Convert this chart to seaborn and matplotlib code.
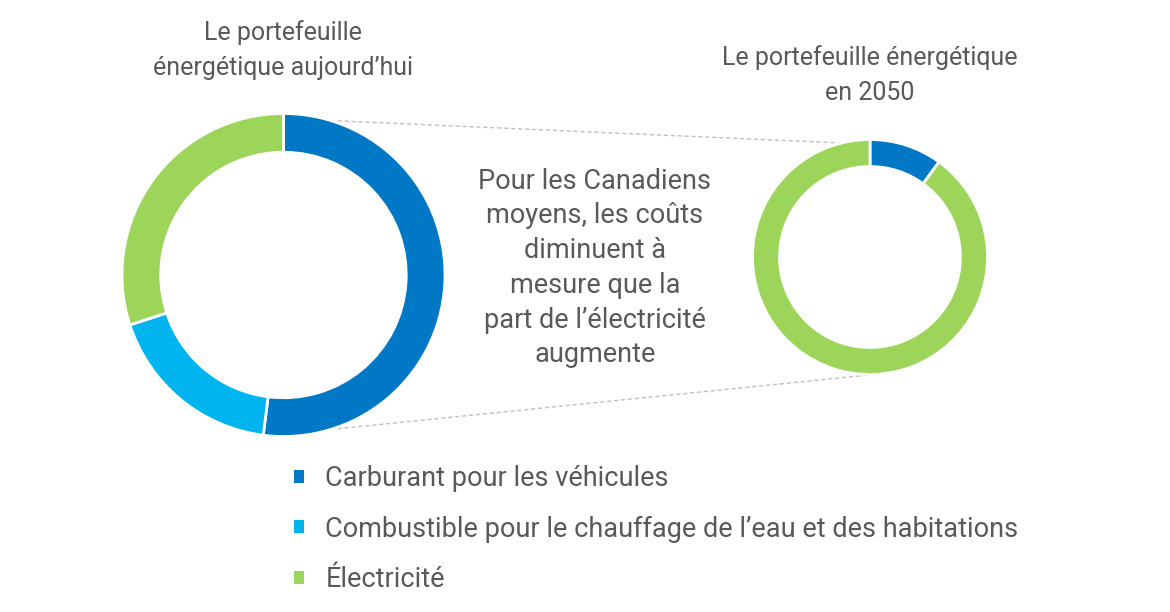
import numpy as np
import matplotlib.pyplot as plt
import seaborn as sns

# data
categories = ['Carburant pour les véhicules',
              'Combustible pour le chauffage de l’eau et des habitations',
              'Électricité']
today = [52, 18, 30]
in_2050 = [10, 0, 90]
title_today = 'Le portefeuille\nénergétique aujourd’hui'
title_2050 = 'Le portefeuille énergétique\nen 2050'
middle_text = ('Pour les Canadiens\nmoyens, les coûts\ndiminuent à\n'
               'mesure que la\npart de l’électricité\naugmente')

sns.set_theme(style='white')
plt.rcParams['font.family'] = ['Roboto', 'DejaVu Sans']
palette = sns.color_palette(['#0078C6', '#00B5EF', '#9DD45A'])
text_col = '#595959'

W, H = 1170, 612
fig = plt.figure(figsize=(W / 100, H / 100), dpi=100)

def donut_axes(cx, cy, r):
    return fig.add_axes([(cx - r) / W, 1 - (cy + r) / H, 2 * r / W, 2 * r / H])

# pixel geometry of the two rings
left_c, left_r = (283.5, 275.0), 161.5
right_c, right_r = (870.0, 257.0), 117.5

ax1 = donut_axes(*left_c, left_r)
wedges, _ = ax1.pie(today, colors=palette, startangle=90, counterclock=False,
                    radius=1, wedgeprops=dict(width=0.24, edgecolor='white', linewidth=2))
ax2 = donut_axes(*right_c, right_r)
ax2.pie(in_2050, colors=palette, startangle=90, counterclock=False, radius=1,
        wedgeprops=dict(width=0.23, edgecolor='white', linewidth=2))
for ax in (ax1, ax2):
    ax.set_xlim(-1, 1)
    ax.set_ylim(-1, 1)
    ax.set_aspect('equal')
    ax.axis('off')

# overlay in pixel coordinates for the connector lines and text
ov = fig.add_axes([0, 0, 1, 1], zorder=-1)
ov.set_xlim(0, W)
ov.set_ylim(H, 0)
ov.axis('off')

def ring_point(c, r, deg):
    a = np.deg2rad(deg)
    return c[0] + r * np.sin(a), c[1] - r * np.cos(a)

for a1, a2 in [(17, -14), (163, 178)]:
    p1 = ring_point(left_c, left_r, a1)
    p2 = ring_point(right_c, right_r, a2)
    ov.plot([p1[0], p2[0]], [p1[1], p2[1]], color='#BFBFBF', lw=1,
            linestyle=(0, (3, 2)))

ov.text(283, 50, title_today, ha='center', va='center', fontsize=18,
        color=text_col, linespacing=1.6)
ov.text(870, 75, title_2050, ha='center', va='center', fontsize=18,
        color=text_col, linespacing=1.6)
ov.text(595, 268, middle_text, ha='center', va='center', fontsize=19.5,
        color=text_col, linespacing=1.37)

leg = fig.legend(wedges, categories, loc='upper left',
                 bbox_to_anchor=(294 / W, 1 - 465 / H), frameon=False,
                 fontsize=19.5, handlelength=0.36, handleheight=0.36,
                 handletextpad=0.8, labelspacing=0.87, borderpad=0,
                 borderaxespad=0, labelcolor=text_col)
for h in leg.legend_handles:
    h.set_linewidth(0)

fig.savefig('out.png', dpi=100, facecolor='white')
